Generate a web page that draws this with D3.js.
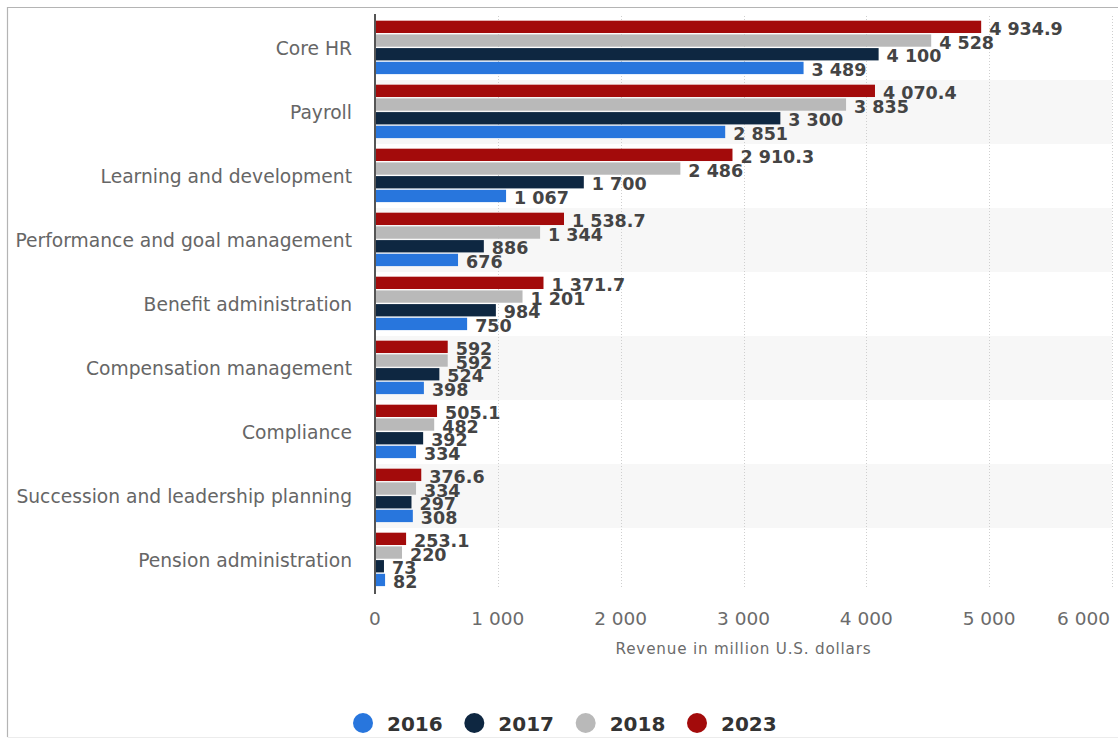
<!DOCTYPE html>
<html>
<head>
<meta charset="utf-8">
<script src="https://cdn.jsdelivr.net/npm/d3@7"></script>
<style>
  html, body { margin: 0; padding: 0; background: #ffffff; }
  svg { display: block; }
</style>
</head>
<body>
<svg id="chart" width="1118" height="738"></svg>
<script>
// HR software segment revenue, million U.S. dollars
const categories = [
  "Core HR",
  "Payroll",
  "Learning and development",
  "Performance and goal management",
  "Benefit administration",
  "Compensation management",
  "Compliance",
  "Succession and leadership planning",
  "Pension administration"
];
const years = ["2016", "2017", "2018", "2023"];
const values2016 = [3489, 2851, 1067, 676, 750, 398, 334, 308, 82];
const values2017 = [4100, 3300, 1700, 886, 984, 524, 392, 297, 73];
const values2018 = [4528, 3835, 2486, 1344, 1201, 592, 482, 334, 220];
const values2023 = [4934.9, 4070.4, 2910.3, 1538.7, 1371.7, 592, 505.1, 376.6, 253.1];
const xTicks = [0, 1000, 2000, 3000, 4000, 5000, 6000];
const axisTitle = "Revenue in million U.S. dollars";

const seriesColors = {
  "2016": "#2876dd",
  "2017": "#0e2741",
  "2018": "#b9b9b9",
  "2023": "#a30b0b"
};

const series = [
  { year: "2016", values: values2016 },
  { year: "2017", values: values2017 },
  { year: "2018", values: values2018 },
  { year: "2023", values: values2023 }
];

const rows = categories.map((c, i) => ({
  category: c,
  index: i,
  points: series.map(s => ({ year: s.year, value: s.values[i] }))
}));

const locale = d3.formatLocale({ decimal: ".", thousands: "\u00a0", grouping: [3], currency: ["", ""] });
const fmtValue = locale.format(",.1~f");
const fmtTick = locale.format(",.0f");

const svg = d3.select("#chart");
const font = "'DejaVu Sans', Verdana, sans-serif";

const plot = { left: 375, right: 1112, top: 16, bottom: 592 };

const x = d3.scaleLinear().domain([0, 6000]).range([plot.left, plot.right]);
const y = d3.scaleBand().domain(categories).range([plot.top, plot.bottom]).padding(0);
// within a category the newest year sits on top
const yInner = d3.scaleBand()
  .domain(years.slice().reverse())
  .range([4, 58.8])
  .paddingInner(0.1)
  .paddingOuter(0.05);

// outer frame
svg.append("path")
  .attr("d", "M7.5,737 L7.5,7.5 L1118,7.5")
  .attr("fill", "none")
  .attr("stroke", "#b4b4b4")
  .attr("stroke-width", 1.2);
svg.append("line")
  .attr("x1", 7.5).attr("x2", 1118).attr("y1", 737.5).attr("y2", 737.5)
  .attr("stroke", "#ececec");

// alternating category bands
svg.append("g").selectAll("rect")
  .data(categories.filter((d, i) => i % 2 === 1))
  .join("rect")
  .attr("x", plot.left)
  .attr("y", d => y(d))
  .attr("width", plot.right - plot.left)
  .attr("height", y.bandwidth())
  .attr("fill", "#f7f7f7");

// dotted vertical grid
svg.append("g").selectAll("line")
  .data(xTicks.filter(t => t > 0))
  .join("line")
  .attr("x1", d => Math.round(x(d)) + 0.5)
  .attr("x2", d => Math.round(x(d)) + 0.5)
  .attr("y1", plot.top)
  .attr("y2", plot.bottom - 4)
  .attr("stroke", "#cfcfcf")
  .attr("stroke-width", 1)
  .attr("stroke-dasharray", "1,2");

// bars
const groups = svg.append("g").selectAll("g")
  .data(rows)
  .join("g")
  .attr("transform", d => `translate(0,${y(d.category)})`);

groups.selectAll("rect")
  .data(d => d.points)
  .join("rect")
  .attr("x", x(0))
  .attr("y", d => yInner(d.year))
  .attr("width", d => x(d.value) - x(0))
  .attr("height", yInner.bandwidth())
  .attr("fill", d => seriesColors[d.year]);

// value labels
groups.selectAll("text")
  .data(d => d.points)
  .join("text")
  .attr("x", d => x(d.value) + 8)
  .attr("y", d => yInner(d.year) + yInner.bandwidth() / 2 + 8)
  .attr("font-family", font)
  .attr("font-size", 17.5)
  .attr("font-weight", "bold")
  .attr("fill", "#444")
  .text(d => fmtValue(d.value));

// y axis line
svg.append("line")
  .attr("x1", plot.left).attr("x2", plot.left)
  .attr("y1", plot.top - 2).attr("y2", plot.bottom + 2)
  .attr("stroke", "#555")
  .attr("stroke-width", 2);

// category labels
svg.append("g").selectAll("text")
  .data(categories)
  .join("text")
  .attr("x", 352)
  .attr("y", d => y(d) + y.bandwidth() / 2 + 6.5)
  .attr("text-anchor", "end")
  .attr("font-family", font)
  .attr("font-size", 18.7)
  .attr("fill", "#666")
  .text(d => d);

// x tick labels
svg.append("g").selectAll("text")
  .data(xTicks)
  .join("text")
  .attr("x", (d, i) => i === xTicks.length - 1 ? x(d) - 2 : x(d))
  .attr("y", 625)
  .attr("text-anchor", (d, i) => i === xTicks.length - 1 ? "end" : "middle")
  .attr("font-family", font)
  .attr("font-size", 18.5)
  .attr("fill", "#6b6b6b")
  .text(d => fmtTick(d));

// axis title
svg.append("text")
  .attr("x", (plot.left + plot.right) / 2)
  .attr("y", 654)
  .attr("text-anchor", "middle")
  .attr("font-family", font)
  .attr("font-size", 15.2)
  .attr("letter-spacing", 0.8)
  .attr("fill", "#6b6b6b")
  .text(axisTitle);

// legend
const legendX = d3.scalePoint().domain(years).range([363, 697]);
const legend = svg.append("g").selectAll("g")
  .data(years)
  .join("g")
  .attr("transform", d => `translate(${legendX(d)},723)`);
legend.append("circle")
  .attr("r", 10)
  .attr("fill", d => seriesColors[d]);
legend.append("text")
  .attr("x", 24)
  .attr("y", 7.5)
  .attr("font-family", font)
  .attr("font-size", 20)
  .attr("font-weight", "bold")
  .attr("fill", "#333")
  .text(d => d);
</script>
</body>
</html>
